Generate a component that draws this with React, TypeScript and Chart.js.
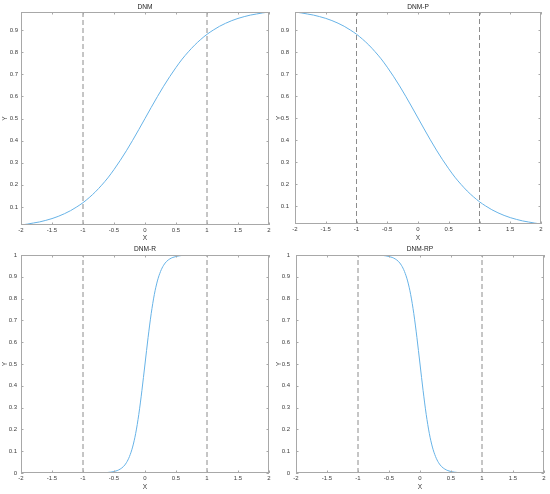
import React, { useEffect, useRef } from 'react';
import { Chart, registerables } from 'chart.js';
Chart.register(...registerables);

const panelTitles = ['DNM', 'DNM-P', 'DNM-R', 'DNM-RP'];
const xTicks = [-2, -1.5, -1, -0.5, 0, 0.5, 1, 1.5, 2];
const yTicksSoft = [0.1, 0.2, 0.3, 0.4, 0.5, 0.6, 0.7, 0.8, 0.9];
const yTicksSteep = [0, 0.1, 0.2, 0.3, 0.4, 0.5, 0.6, 0.7, 0.8, 0.9, 1];
const thresholds = [-1, 1];

const xSoft = [-2, -1.9, -1.8, -1.7, -1.6, -1.5, -1.4, -1.3, -1.2, -1.1, -1, -0.9, -0.8, -0.7, -0.6, -0.5, -0.4, -0.3, -0.2, -0.1, 0,
  0.1, 0.2, 0.3, 0.4, 0.5, 0.6, 0.7, 0.8, 0.9, 1, 1.1, 1.2, 1.3, 1.4, 1.5, 1.6, 1.7, 1.8, 1.9, 2];
const dnmY = [0.018, 0.022, 0.027, 0.032, 0.039, 0.047, 0.057, 0.069, 0.083, 0.100, 0.119, 0.142, 0.168, 0.198, 0.231, 0.269, 0.310, 0.354, 0.401, 0.450, 0.500,
  0.550, 0.599, 0.646, 0.690, 0.731, 0.769, 0.802, 0.832, 0.858, 0.881, 0.900, 0.917, 0.931, 0.943, 0.953, 0.961, 0.968, 0.973, 0.978, 0.982];
const dnmPY = [0.982, 0.978, 0.973, 0.968, 0.961, 0.953, 0.943, 0.931, 0.917, 0.900, 0.881, 0.858, 0.832, 0.802, 0.769, 0.731, 0.690, 0.646, 0.599, 0.550, 0.500,
  0.450, 0.401, 0.354, 0.310, 0.269, 0.231, 0.198, 0.168, 0.142, 0.119, 0.100, 0.083, 0.069, 0.057, 0.047, 0.039, 0.032, 0.027, 0.022, 0.018];

const xSteep = [-2, -1.5, -1, -0.8, -0.7, -0.6, -0.55, -0.5, -0.45, -0.4, -0.35, -0.3, -0.25, -0.2, -0.15, -0.1, -0.05, 0,
  0.05, 0.1, 0.15, 0.2, 0.25, 0.3, 0.35, 0.4, 0.45, 0.5, 0.55, 0.6, 0.7, 0.8, 1, 1.5, 2];
const dnmRY = [0, 0, 0, 0.0003, 0.0009, 0.0025, 0.0041, 0.0067, 0.011, 0.018, 0.029, 0.047, 0.076, 0.119, 0.182, 0.269, 0.378, 0.5,
  0.622, 0.731, 0.818, 0.881, 0.924, 0.953, 0.971, 0.982, 0.989, 0.993, 0.996, 0.998, 0.999, 1, 1, 1, 1];
const dnmRPY = [1, 1, 1, 1, 0.999, 0.998, 0.996, 0.993, 0.989, 0.982, 0.971, 0.953, 0.924, 0.881, 0.818, 0.731, 0.622, 0.5,
  0.378, 0.269, 0.182, 0.119, 0.076, 0.047, 0.029, 0.018, 0.011, 0.0067, 0.0041, 0.0025, 0.0009, 0.0003, 0, 0, 0];

const FONT = '"Liberation Sans", Arial, Helvetica, sans-serif';
const CURVE = '#67b3e7';
const FRAME = '#a8a8a8';
const TEXT = '#3c3c3c';

type Panel = {
  title: string; xs: number[]; ys: number[]; yTicks: number[]; yMin: number; yMax: number;
  left: number; top: number; w: number; h: number;
  aL: number; aR: number; aT: number; aB: number; yPad: number; xTitlePad: number; yTitlePad: number; titleY: number;
};

const panels: Panel[] = [
  { title: panelTitles[0], xs: xSoft, ys: dnmY, yTicks: yTicksSoft, yMin: 0.018, yMax: 0.982,
    left: 0, top: 0, w: 275, h: 247, aL: 21, aR: 269, aT: 12, aB: 225, yPad: 3, xTitlePad: 5, yTitlePad: 1, titleY: 7 },
  { title: panelTitles[1], xs: xSoft, ys: dnmPY, yTicks: yTicksSoft, yMin: 0.018, yMax: 0.982,
    left: 275, top: 0, w: 275, h: 247, aL: 20, aR: 266, aT: 12, aB: 224, yPad: 6, xTitlePad: 5, yTitlePad: 0, titleY: 7 },
  { title: panelTitles[2], xs: xSteep, ys: dnmRY, yTicks: yTicksSteep, yMin: 0, yMax: 1,
    left: 0, top: 240, w: 275, h: 254, aL: 21, aR: 269, aT: 15, aB: 233, yPad: 4, xTitlePad: 3, yTitlePad: 1, titleY: 9 },
  { title: panelTitles[3], xs: xSteep, ys: dnmRPY, yTicks: yTicksSteep, yMin: 0, yMax: 1,
    left: 275, top: 240, w: 275, h: 254, aL: 21, aR: 269, aT: 15, aB: 233, yPad: 6, xTitlePad: 3, yTitlePad: 0, titleY: 9 },
];

const framePlugin = {
  id: 'matlabFrame',
  afterDatasetsDraw(chart: any) {
    const { ctx, chartArea: a, scales } = chart;
    ctx.save();
    ctx.strokeStyle = FRAME;
    ctx.lineWidth = 1;
    ctx.strokeRect(Math.round(a.left) + 0.5, Math.round(a.top) + 0.5, Math.round(a.right - a.left) - 1, Math.round(a.bottom - a.top) - 1);
    const tl = 2.5;
    ctx.beginPath();
    for (const t of scales.x.ticks) {
      const px = Math.round(scales.x.getPixelForValue(t.value)) + 0.5;
      ctx.moveTo(px, a.bottom); ctx.lineTo(px, a.bottom - tl);
      ctx.moveTo(px, a.top); ctx.lineTo(px, a.top + tl);
    }
    for (const t of scales.y.ticks) {
      const py = Math.round(scales.y.getPixelForValue(t.value)) + 0.5;
      ctx.moveTo(a.left, py); ctx.lineTo(a.left + tl, py);
      ctx.moveTo(a.right, py); ctx.lineTo(a.right - tl, py);
    }
    ctx.stroke();
    ctx.restore();
  },
  afterDraw(chart: any) {
    const { ctx, chartArea: a } = chart;
    const opts = chart.options.plugins.matlabFrame;
    ctx.save();
    ctx.fillStyle = '#222';
    ctx.font = `6.6px ${FONT}`;
    ctx.textAlign = 'center';
    ctx.textBaseline = 'middle';
    ctx.fillText(opts.title, (a.left + a.right) / 2, opts.titleY);
    ctx.restore();
  },
};

function PanelChart({ p }: { p: Panel }) {
  const ref = useRef<HTMLCanvasElement>(null);
  useEffect(() => {
    const canvas = ref.current!;
    const tickFont = { size: 6, family: FONT };
    const dashed = thresholds.map((t) => ({
      data: [{ x: t, y: p.yMin }, { x: t, y: p.yMax }],
      borderColor: '#8c8c8c',
      borderWidth: 1,
      borderDash: [5, 3],
      pointRadius: 0,
      fill: false,
    }));
    const chart = new Chart(canvas, {
      type: 'line',
      data: {
        datasets: [
          {
            data: p.xs.map((x, i) => ({ x, y: p.ys[i] })),
            borderColor: CURVE,
            borderWidth: 1,
            pointRadius: 0,
            fill: false,
            cubicInterpolationMode: 'monotone',
          } as any,
          ...dashed,
        ],
      },
      options: {
        animation: false,
        responsive: false,
        maintainAspectRatio: false,
        devicePixelRatio: 1,
        events: [],
        layout: { padding: { top: p.aT, right: p.w - p.aR, left: 0, bottom: 0 } },
        plugins: {
          legend: { display: false },
          tooltip: { enabled: false },
          title: { display: false },
          matlabFrame: { title: p.title, titleY: p.titleY },
        } as any,
        scales: {
          x: {
            type: 'linear',
            min: -2,
            max: 2,
            grid: { display: false, drawTicks: false, tickLength: 0 },
            border: { display: false },
            afterBuildTicks: (s: any) => { s.ticks = xTicks.map((v) => ({ value: v })); },
            afterFit: (s: any) => { s.height = p.h - p.aB; s.paddingLeft = 0; s.paddingRight = 0; },
            ticks: { font: tickFont, color: TEXT, padding: 2, maxRotation: 0, autoSkip: false, callback: (v: any) => String(v) },
            title: { display: true, text: 'X', color: TEXT, font: { size: 6.6, family: FONT }, padding: { top: 0, bottom: p.xTitlePad } },
          },
          y: {
            type: 'linear',
            min: p.yMin,
            max: p.yMax,
            grid: { display: false, drawTicks: false, tickLength: 0 },
            border: { display: false },
            afterBuildTicks: (s: any) => { s.ticks = p.yTicks.map((v) => ({ value: v })); },
            afterFit: (s: any) => { s.width = p.aL; s.paddingTop = 0; s.paddingBottom = 0; },
            ticks: { font: tickFont, color: TEXT, padding: p.yPad, autoSkip: false, callback: (v: any) => String(v) },
            title: { display: true, text: 'Y', color: TEXT, font: { size: 6.6, family: FONT }, padding: { top: p.yTitlePad, bottom: 0 } },
          },
        },
      },
      plugins: [framePlugin],
    });
    return () => chart.destroy();
  }, [p]);
  return (
    <canvas
      ref={ref}
      width={p.w}
      height={p.h}
      style={{ position: 'absolute', left: p.left, top: p.top, width: p.w, height: p.h, display: 'block' }}
    />
  );
}

export default function App() {
  return (
    <div style={{ position: 'absolute', left: 0, top: 0, width: 550, height: 494, background: '#fff', overflow: 'hidden' }}>
      {panels.map((p) => (
        <PanelChart key={p.title} p={p} />
      ))}
    </div>
  );
}
